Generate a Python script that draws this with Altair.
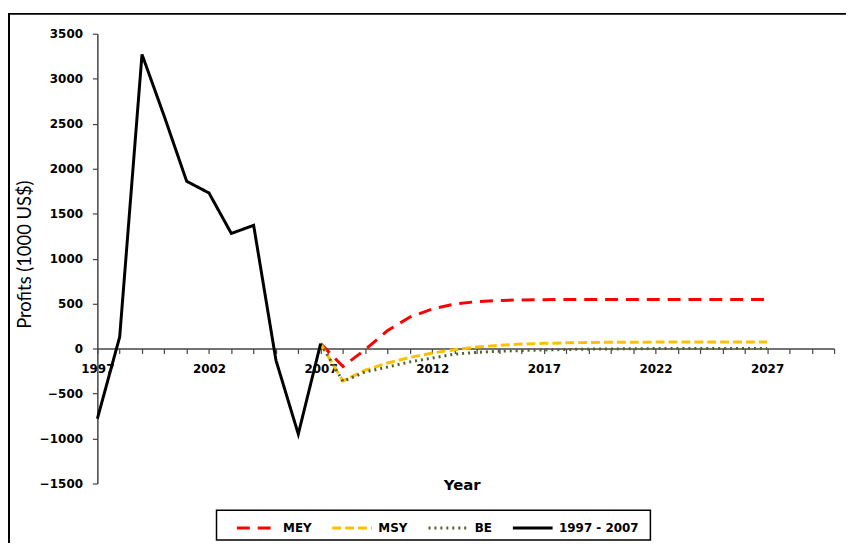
import altair as alt
import pandas as pd

# ---- data ----
hist_years = list(range(1997, 2008))
hist_vals = [-780, 130, 3270, 2580, 1860, 1730, 1280, 1370, -130, -950, 55]

proj_years = list(range(2007, 2028))
mey_vals = [55, -200, -10, 200, 350, 440, 495, 522, 535, 541, 544, 545, 545, 545, 545, 545, 545, 545, 545, 545, 545]
msy_vals = [55, -360, -240, -160, -98, -50, -12, 18, 37, 50, 58, 64, 68, 70, 71, 72, 72, 72, 72, 72, 72]
be_vals = [55, -365, -260, -205, -148, -105, -62, -42, -30, -22, -15, -10, -6, -4, -2, 0, 0, 0, 0, 0, 0]

series_order = ["MEY", "MSY", "BE", "1997 - 2007"]
series_colors = ["#FF0000", "#FFC000", "#4F6228", "#000000"]
series_dashes = [[13, 8], [9, 4], [2, 4], [1, 0]]

x_ticks = list(range(1997, 2031))
y_ticks = list(range(-1500, 4000, 500))

rows = []
for name, vals in [("MEY", mey_vals), ("MSY", msy_vals), ("BE", be_vals)]:
    for yr, v in zip(proj_years, vals):
        rows.append({"series": name, "year": yr, "value": v})
proj_df = pd.DataFrame(rows)
hist_df = pd.DataFrame({"series": "1997 - 2007", "year": hist_years, "value": hist_vals})

LBL_FONT = "DejaVu Sans"
TITLE_FONT = "Lato"

legend_kw = dict(
    title=None, orient="none", legendX=139, legendY=476, direction="horizontal",
    symbolType="stroke", symbolSize=1600, symbolStrokeWidth=3,
    labelFont=LBL_FONT, labelFontWeight="bold", labelFontSize=12, labelColor="#000",
    columnPadding=14, labelOffset=5, padding=0,
)

x_enc = alt.X(
    "year:Q",
    scale=alt.Scale(domain=[1997, 2030], nice=False, zero=False),
    axis=alt.Axis(
        values=x_ticks,
        labelExpr="(datum.value - 1997) % 5 == 0 ? '' + datum.value : ''",
        offset=-136, title="Year", titleY=137, titleX=367, titleBaseline="middle",
        titleFont=LBL_FONT, titleFontSize=15, titleFontWeight="bold", titleColor="#000",
        labelOverlap=False, labelFlush=False, tickSize=5, grid=False, labelPadding=10,
        labelFont=LBL_FONT, labelFontWeight="bold", labelFontSize=12, labelColor="#000",
        domainColor="#444", tickColor="#444", domainWidth=1.5, tickWidth=1.2,
    ),
)
y_enc = alt.Y(
    "value:Q",
    scale=alt.Scale(domain=[-1500, 3500], nice=False),
    axis=alt.Axis(
        values=y_ticks, format="d", title="Profits (1000 US$)", titleX=-73, titleY=222,
        titleAngle=-90, titleBaseline="middle", titleAlign="center",
        titleFont=TITLE_FONT, titleFontSize=18.5, titleFontWeight="normal", titleColor="#000",
        grid=False, tickSize=5, labelPadding=10,
        labelFont=LBL_FONT, labelFontWeight="bold", labelFontSize=12, labelColor="#000",
        domainColor="#444", tickColor="#444", domainWidth=1.5, tickWidth=1.2,
    ),
)
color_enc = alt.Color("series:N", scale=alt.Scale(domain=series_order, range=series_colors),
                      legend=alt.Legend(**legend_kw))
dash_enc = alt.StrokeDash("series:N", scale=alt.Scale(domain=series_order, range=series_dashes),
                          legend=alt.Legend(**legend_kw))

proj = alt.Chart(proj_df).mark_line(strokeWidth=3).encode(
    x=x_enc, y=y_enc, color=color_enc, strokeDash=dash_enc, detail="series:N")
hist = alt.Chart(hist_df).mark_line(strokeWidth=3).encode(
    x=x_enc, y=y_enc, color=color_enc, strokeDash=dash_enc)

dummy = pd.DataFrame({"a": [0]})
frame = alt.Chart(dummy).mark_rect(fillOpacity=0, stroke="#000", strokeWidth=2).encode(
    x=alt.value(-89), x2=alt.value(770), y=alt.value(-20), y2=alt.value(540))
legend_box = alt.Chart(dummy).mark_rect(fillOpacity=0, stroke="#000", strokeWidth=1.5).encode(
    x=alt.value(120), x2=alt.value(557), y=alt.value(480), y2=alt.value(510))

chart = alt.layer(frame, legend_box, proj, hist).properties(
    width=742, height=453,
    autosize=alt.AutoSizeParams(type="none"),
    padding={"left": 90, "top": 24, "right": 12, "bottom": 58},
    background="white",
).configure_view(strokeWidth=0)

chart.save("out.html", embed_options={"renderer": "svg", "actions": False})
